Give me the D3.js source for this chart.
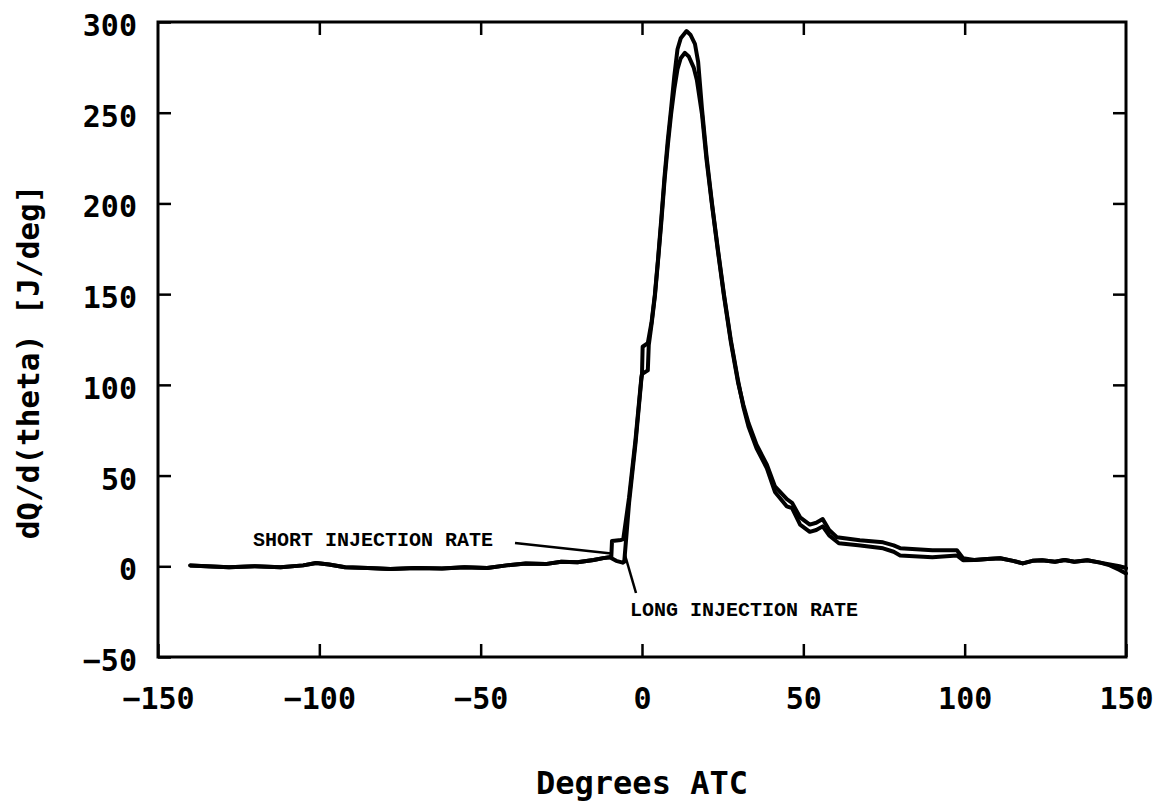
<!DOCTYPE html>
<html>
<head>
<meta charset="utf-8">
<script src="https://cdn.jsdelivr.net/npm/d3@7"></script>
<style>
  body { margin: 0; background: #fff; }
  svg { display: block; }
</style>
</head>
<body>
<script>
// values (degrees ATC, J/deg)
var xTicks = [-150, -100, -50, 0, 50, 100, 150];
var yTicks = [-50, 0, 50, 100, 150, 200, 250, 300];

var baseline = [[-140, 0.5], [-135, 0], [-128, -0.5], [-120, 0], [-112, -0.5], [-105, 0.5],
    [-101, 1.8], [-97, 1], [-92, -0.5], [-85, -1], [-78, -1.5], [-70, -1], [-62, -1.2],
    [-55, -0.5], [-48, -1], [-42, 0.5], [-36, 1.5], [-30, 1.2], [-25, 2.5], [-20, 2.2],
    [-15, 3.5], [-12, 4.5], [-10, 5]];

var shortRate = [[-9.5, 5.5], [-9.3, 14], [-6.5, 14.5], [-5.8, 15], [-4, 38], [-2, 70],
    [-0.2, 104], [0, 106], [0.2, 121], [1.8, 123], [3, 135], [4, 150], [5, 170], [6, 192],
    [7, 215], [8, 235], [9, 252], [10, 270], [11, 285], [12, 291], [13.8, 295], [15, 293],
    [16.4, 288], [17.4, 278], [18.6, 252], [20, 226], [21.7, 200], [23.5, 175], [25.4, 150],
    [27.5, 125], [29.8, 102], [31.4, 88], [33, 77], [35.5, 65], [38.7, 54], [41.2, 41],
    [44.9, 33], [46.5, 32], [49, 23], [52, 19], [54, 20], [56, 22], [58, 17], [61, 12.7],
    [67, 11.6], [74.7, 9.9], [78, 8], [80, 6], [90, 5], [97.6, 6], [99.5, 3.3], [103, 3.5],
    [107, 4], [111, 4.4], [115, 3], [118, 1.6], [121, 3], [124, 3.3], [128, 2.5], [131, 3.5],
    [134, 2.5], [138, 3.3], [142, 2], [145, 1], [148, 0], [150, -1]];

var longRate = [[-8, 3], [-6, 2], [-5.5, 2.5], [-4, 35], [-2, 68], [-0.2, 103], [0, 106],
    [1.8, 108], [2.1, 122], [3, 134], [4, 149], [5, 169], [6, 190], [7, 213], [8, 232],
    [9, 249], [10, 263], [11, 274], [12, 280], [13.3, 283], [14.5, 281], [16, 275], [17, 268],
    [18.6, 249], [20, 224], [21.7, 199], [23.5, 174], [25.4, 149], [27.5, 124], [29.8, 101],
    [31.4, 89], [33, 79], [35.5, 67], [38.7, 56], [41.2, 44], [44.9, 37], [46.5, 35], [49, 27],
    [52, 23], [54, 24], [56, 26], [58, 20], [60.4, 16], [67.5, 14.3], [74.7, 13.2], [78, 11.5],
    [80, 10], [90, 8.8], [97.6, 8.8], [99.5, 4.4], [103, 3.5], [107, 4], [111, 4.4], [115, 3],
    [118, 1.6], [121, 3], [124, 3.3], [128, 2.5], [131, 3.5], [134, 2.5], [138, 3.3],
    [142, 2], [145, 0.5], [148, -2], [150, -4]];

var width = 1166, height = 808;
var margin = {top: 22, right: 40, bottom: 151, left: 158};
var mono = "'DejaVu Sans Mono', 'Liberation Mono', monospace";

var svg = d3.select("body").append("svg")
    .attr("width", width)
    .attr("height", height);

svg.append("rect").attr("width", width).attr("height", height).attr("fill", "#fff");

var x = d3.scaleLinear().domain([-150, 150]).range([margin.left, width - margin.right]);
var y = d3.scaleLinear().domain([-50, 300]).range([height - margin.bottom, margin.top]);

// frame
svg.append("rect")
    .attr("x", x(-150)).attr("y", y(300))
    .attr("width", x(150) - x(-150)).attr("height", y(-50) - y(300))
    .attr("fill", "none").attr("stroke", "#000").attr("stroke-width", 3);

function styleAxis(g) {
    g.select(".domain").remove();
    g.selectAll(".tick line").attr("stroke", "#000").attr("stroke-width", 2.5);
    g.selectAll(".tick text")
        .attr("fill", "#000")
        .style("font-family", mono)
        .style("font-weight", "bold")
        .style("font-size", "30px");
}

svg.append("g")
    .attr("transform", "translate(0," + y(-50) + ")")
    .call(d3.axisBottom(x).tickValues(xTicks).tickSize(-13).tickPadding(31))
    .call(styleAxis);

svg.append("g")
    .attr("transform", "translate(0," + y(300) + ")")
    .call(d3.axisTop(x).tickValues(xTicks.slice(1, -1)).tickSize(-13).tickFormat(""))
    .call(styleAxis);

svg.append("g")
    .attr("transform", "translate(" + x(-150) + ",0)")
    .call(d3.axisLeft(y).tickValues(yTicks).tickSize(-13).tickPadding(21))
    .call(styleAxis)
    .selectAll(".tick text").attr("dy", "0.45em");

svg.append("g")
    .attr("transform", "translate(" + x(150) + ",0)")
    .call(d3.axisRight(y).tickValues(yTicks.slice(1, -1)).tickSize(-13).tickFormat(""))
    .call(styleAxis);

// curves
var line = d3.line()
    .x(d => x(d[0]))
    .y(d => y(d[1]));

[baseline.concat(shortRate), baseline.concat(longRate)].forEach(function(series) {
    svg.append("path")
        .datum(series)
        .attr("fill", "none")
        .attr("stroke", "#000")
        .attr("stroke-width", 4)
        .attr("stroke-linejoin", "round")
        .attr("stroke-linecap", "round")
        .attr("d", line);
});

// annotations
var note = "'Courier New', 'Liberation Mono', monospace";

svg.append("line")
    .attr("x1", 515).attr("y1", 543)
    .attr("x2", x(-9.5)).attr("y2", y(7))
    .attr("stroke", "#000").attr("stroke-width", 2.5);

svg.append("text")
    .attr("x", 253).attr("y", 546)
    .style("font-family", note).style("font-weight", "bold").style("font-size", "20px")
    .text("SHORT INJECTION RATE");

svg.append("line")
    .attr("x1", x(-5.4)).attr("y1", y(7))
    .attr("x2", 636).attr("y2", 593)
    .attr("stroke", "#000").attr("stroke-width", 2.5);

svg.append("text")
    .attr("x", 630).attr("y", 616)
    .style("font-family", note).style("font-weight", "bold").style("font-size", "20px")
    .text("LONG INJECTION RATE");

// axis titles
svg.append("text")
    .attr("x", x(0)).attr("y", 794)
    .attr("text-anchor", "middle")
    .style("font-family", mono).style("font-weight", "bold").style("font-size", "32px")
    .text("Degrees ATC");

svg.append("text")
    .attr("transform", "translate(39,362) rotate(-90)")
    .attr("text-anchor", "middle")
    .style("font-family", mono).style("font-weight", "bold").style("font-size", "31px")
    .text("dQ/d(theta) [J/deg]");
</script>
</body>
</html>
